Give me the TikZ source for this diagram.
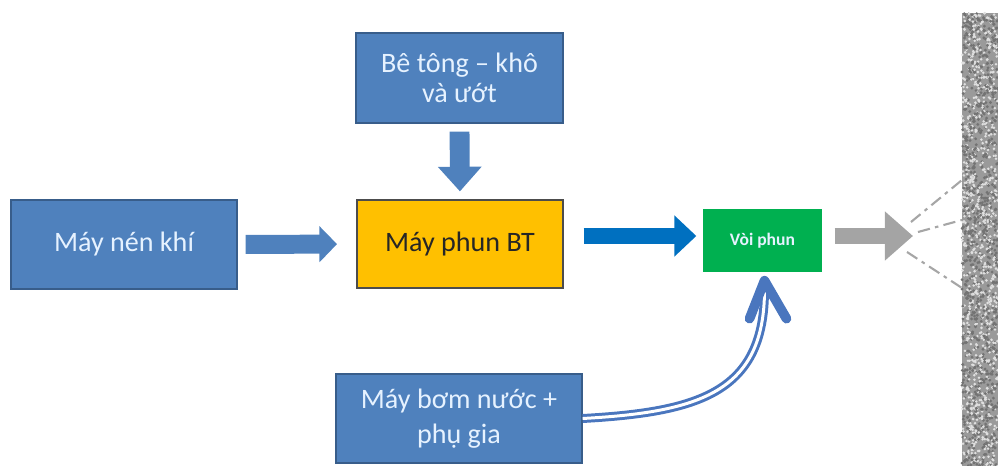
\documentclass[tikz,border=0pt]{standalone}
\usepackage{fontspec}
\setmainfont{Carlito}
\usetikzlibrary{calc,arrows.meta}
\definecolor{hopxanh}{HTML}{4F81BD}
\definecolor{vienxanh}{HTML}{385D8A}
\definecolor{xanhdam}{HTML}{0070C0}
\definecolor{ongxanh}{HTML}{4A76BE}
\definecolor{vang}{HTML}{FFC000}
\definecolor{luc}{HTML}{00B050}
\definecolor{xam}{HTML}{9A9A9A}
\definecolor{chu}{HTML}{E6F2FF}

\begin{document}
\begin{tikzpicture}[x=0.02cm, y=-0.02cm,
  hop/.style={draw=vienxanh, fill=hopxanh, text=chu, line width=0.8pt,
    font=\fontsize{16}{19}\selectfont, align=center, inner sep=0pt},
  mui/.style={hopxanh, line width=10.8pt, -{Triangle[length=10pt, width=20pt]}},
  tia/.style={gray!70, line width=1.2pt, dash pattern=on 7pt off 3pt on 2pt off 3pt}]
  \useasboundingbox (0,0) rectangle (998,466);

  \node[hop, minimum width=4.52cm, minimum height=1.78cm] (N) at (124,244.5) {Máy nén khí};
  \node[hop, minimum width=4.14cm, minimum height=1.8cm,
    font=\fontsize{16}{17}\selectfont] (B) at (459.5,78) {Bê tông -- khô\\và ướt};
  \node[hop, fill=vang, draw=black!70, text=black!85,
    minimum width=4.12cm, minimum height=1.76cm] (P) at (460,244) {Máy phun BT};
  \node[hop, fill=luc, draw=none, font=\bfseries\fontsize{10}{12}\selectfont,
    minimum width=2.38cm, minimum height=1.26cm] (V) at (762.5,240.5) {Vòi phun};
  \node[hop, minimum width=4.92cm, minimum height=1.78cm,
    font=\fontsize{16}{20}\selectfont] (M) at (459,418.5) {Máy bơm nước +\\phụ gia};

  % tuong
  \fill[xam] (962,13) rectangle (998,466);
  \pgfmathsetseed{7}
  \foreach \i in {1,...,900} {
    \fill[black!55] ({962+36*rnd},{13+453*rnd}) circle (0.9pt);
    \fill[gray!25] ({962+36*rnd},{13+453*rnd}) circle (0.8pt);
  }
  \coordinate (W) at (962,13);

  % cac mui ten khoi
  \draw[mui, shorten <=4.5pt, shorten >=11pt] (N.east) -- (P.west);
  \draw[mui, line width=11.3pt, -{Triangle[length=14pt, width=24pt]},
    shorten <=4.5pt, shorten >=4.5pt] (B.south) -- (P.north);
  \draw[mui, xanhdam, line width=9.6pt, -{Triangle[length=12.5pt, width=22.7pt]},
    shorten <=11.3pt, shorten >=3.4pt] (P.east |- 0,236) -- (V.west |- 0,236);
  \coordinate (S) at (913,236);
  \draw[mui, xam!90, line width=9pt, -{Triangle[length=16pt, width=27pt]},
    shorten <=6.8pt] (V.east |- S) -- (S);

  % tia phun
  \draw[tia] ($(S)+(-2,-14)$) -- (W |- 0,180);
  \draw[tia] ($(S)+(5,-4)$) -- (W |- 0,220);
  \draw[tia] ($(S)+(-6,16)$) -- (W |- 0,288);

  % nuoc + phu gia
  \coordinate (T) at ($(V.south)+(2,8)$);
  \draw[ongxanh, line width=1.7pt, double=white, double distance=1.7pt]
    (M.east) .. controls (700,412) and (765,392) .. ($(T)+(0,8)$);
  \draw[ongxanh, line width=5.5pt, line cap=round, line join=round]
    ($(T)+(-15,38)$) -- (T) -- ($(T)+(22,38)$);
\end{tikzpicture}
\end{document}
